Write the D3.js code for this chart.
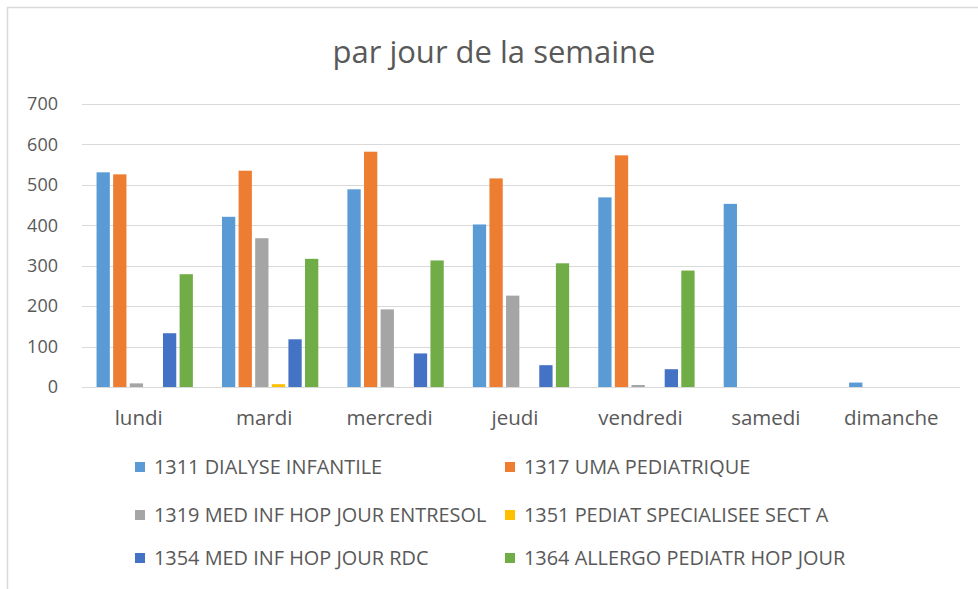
<!DOCTYPE html>
<html>
<head>
<meta charset="utf-8">
<script src="https://cdn.jsdelivr.net/npm/d3@7"></script>
<style>
  body { margin: 0; background: #fff; }
  svg { display: block; font-family: "Open Sans", sans-serif; }
</style>
</head>
<body>
<svg id="chart" width="978" height="589"></svg>
<script>
const days = ["lundi", "mardi", "mercredi", "jeudi", "vendredi", "samedi", "dimanche"];
const seriesNames = [
  "1311 DIALYSE INFANTILE",
  "1317 UMA PEDIATRIQUE",
  "1319 MED INF HOP JOUR ENTRESOL",
  "1351 PEDIAT SPECIALISEE SECT A",
  "1354 MED INF HOP JOUR RDC",
  "1364 ALLERGO PEDIATR HOP JOUR"
];
const colors = ["#5b9bd5", "#ed7d31", "#a5a5a5", "#ffc000", "#4472c4", "#70ad47"];

// one array per series, values per day
const dialyse = [531, 421, 489, 402, 469, 453, 11];
const uma = [526, 535, 582, 516, 573, 0, 0];
const entresol = [9, 368, 192, 226, 5, 0, 0];
const pediatSect = [0, 7, 0, 0, 0, 0, 0];
const rdc = [133, 118, 83, 54, 44, 0, 0];
const allergo = [279, 317, 313, 306, 288, 0, 0];
const values = [dialyse, uma, entresol, pediatSect, rdc, allergo];

const yTicks = [0, 100, 200, 300, 400, 500, 600, 700];

const svg = d3.select("#chart");

// chart frame
svg.append("path")
  .attr("d", "M7.5,589 V7.5 H978")
  .attr("fill", "none")
  .attr("stroke", "#d9d9d9")
  .attr("stroke-width", 1.5);

const x0 = d3.scaleBand().domain(days).range([82, 960]).paddingInner(0.232).paddingOuter(0.116);
const x1 = d3.scaleBand().domain(d3.range(seriesNames.length)).range([0, x0.bandwidth()]).paddingInner(0.2);
const y = d3.scaleLinear().domain([0, 700]).range([387, 104]);

// gridlines
svg.append("g")
  .selectAll("line")
  .data(yTicks)
  .join("line")
  .attr("x1", 82).attr("x2", 960)
  .attr("y1", d => Math.round(y(d)) + 0.5)
  .attr("y2", d => Math.round(y(d)) + 0.5)
  .attr("stroke", "#d9d9d9")
  .attr("stroke-width", 1.2);

// y axis labels
const yAxis = d3.axisLeft(y).tickValues(yTicks).tickSize(0).tickPadding(0);
svg.append("g")
  .attr("transform", "translate(58,0)")
  .call(yAxis)
  .call(g => g.select(".domain").remove())
  .call(g => g.selectAll("text")
    .attr("font-family", "Open Sans, sans-serif")
    .attr("font-size", 18)
    .attr("fill", "#595959"));

// bars
const groups = svg.append("g")
  .selectAll("g")
  .data(days)
  .join("g")
  .attr("transform", d => `translate(${x0(d)},0)`);

groups.selectAll("rect")
  .data((d, i) => values.map((s, k) => ({ k, v: s[i] })))
  .join("rect")
  .attr("x", d => x1(d.k))
  .attr("width", x1.bandwidth())
  .attr("y", d => y(d.v))
  .attr("height", d => y(0) - y(d.v))
  .attr("fill", d => colors[d.k]);

// x axis labels
const xAxis = d3.axisBottom(x0).tickSize(0).tickPadding(0);
svg.append("g")
  .attr("transform", "translate(-6,410)")
  .call(xAxis)
  .call(g => g.select(".domain").remove())
  .call(g => g.selectAll("text")
    .attr("font-family", "Open Sans, sans-serif")
    .attr("font-size", 20.5)
    .attr("fill", "#595959"));

// title
svg.append("text")
  .attr("x", 494)
  .attr("y", 63)
  .attr("text-anchor", "middle")
  .attr("font-size", 31)
  .attr("fill", "#595959")
  .text("par jour de la semaine");

// legend
const legend = svg.append("g")
  .selectAll("g")
  .data(seriesNames)
  .join("g")
  .attr("transform", (d, i) => `translate(${i % 2 === 0 ? 135 : 505},${[467, 515, 558][Math.floor(i / 2)]})`);

legend.append("rect")
  .attr("x", 0).attr("y", -5)
  .attr("width", 10).attr("height", 10)
  .attr("fill", (d, i) => colors[i]);

legend.append("text")
  .attr("x", 19)
  .attr("y", 7)
  .attr("font-size", 19.9)
  .attr("fill", "#595959")
  .text(d => d);
</script>
</body>
</html>
